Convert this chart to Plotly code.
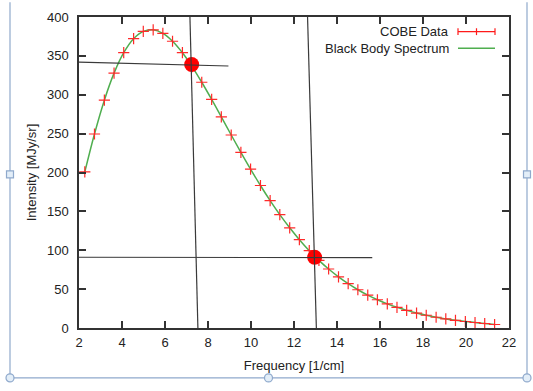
import plotly.graph_objects as go

# COBE FIRAS data
freq = [2.27, 2.72, 3.18, 3.63, 4.08, 4.54, 4.99, 5.45, 5.90, 6.35, 6.81, 7.26, 7.71,
        8.17, 8.62, 9.08, 9.53, 9.98, 10.44, 10.89, 11.34, 11.80, 12.25, 12.71, 13.16,
        13.61, 14.07, 14.52, 14.97, 15.43, 15.88, 16.34, 16.79, 17.24, 17.70, 18.15,
        18.61, 19.06, 19.51, 19.97, 20.42, 20.87, 21.33]
intensity = [200.723, 249.508, 293.024, 327.770, 354.081, 372.079, 381.493, 383.478,
             378.901, 368.833, 354.063, 336.278, 316.076, 293.924, 271.432, 248.239,
             225.940, 204.327, 183.262, 163.830, 145.750, 128.835, 113.568, 99.451,
             87.036, 75.876, 65.766, 57.008, 49.223, 42.267, 36.352, 31.062, 26.580,
             22.644, 19.255, 16.391, 13.811, 11.716, 9.921, 8.364, 7.087, 5.801, 4.523]

# highlighted points
mark_x = [7.24, 12.96]
mark_y = [339, 91]

# hand-drawn guide lines (x pairs, y pairs)
guide_h1_x = [2.0, 8.95]
guide_h1_y = [342, 337]
guide_v1_x = [7.16, 7.53]
guide_v1_y = [400, 0]
guide_v2_x = [12.63, 13.04]
guide_v2_y = [400, 0]
guide_h2_x = [2.0, 15.64]
guide_h2_y = [91, 90.5]

x_ticks = list(range(2, 23, 2))
y_ticks = list(range(0, 401, 50))

W, H = 533, 391
L, R, T, B = 79, 509, 10, 328


def px(x):
    return (x - L) / (R - L)


def py(y):
    return (B - y) / (B - T)


fig = go.Figure()
fig.add_trace(go.Scatter(x=freq, y=intensity, mode="lines", line=dict(color="#4fae4f", width=1.5, shape="spline"),
                         showlegend=False, hoverinfo="skip"))
fig.add_trace(go.Scatter(x=freq, y=intensity, mode="markers",
                         marker=dict(symbol="cross-thin", size=8, line=dict(color="#ff2a2a", width=1.2)),
                         showlegend=False))
fig.add_trace(go.Scatter(x=mark_x, y=mark_y, mode="markers",
                         marker=dict(symbol="circle", size=15, color="#ff0000"), showlegend=False))
for gx, gy in [(guide_h1_x, guide_h1_y), (guide_v1_x, guide_v1_y), (guide_v2_x, guide_v2_y), (guide_h2_x, guide_h2_y)]:
    fig.add_trace(go.Scatter(x=gx, y=gy, mode="lines", line=dict(color="#3a3a3a", width=1.2),
                             showlegend=False, hoverinfo="skip", cliponaxis=True))

shapes = []
# legend samples
shapes.append(dict(type="line", xref="paper", yref="paper", x0=px(458), x1=px(495), y0=py(25), y1=py(25),
                   line=dict(color="#ff1a1a", width=1.2)))
for xx in (458, 495, 476.5):
    shapes.append(dict(type="line", xref="paper", yref="paper", x0=px(xx), x1=px(xx), y0=py(21.5), y1=py(28.5),
                       line=dict(color="#ff1a1a", width=1.2)))
shapes.append(dict(type="line", xref="paper", yref="paper", x0=px(458), x1=px(495), y0=py(42), y1=py(42),
                   line=dict(color="#4fae4f", width=1.5)))

# outer selection frame
fc = "#8fa9cc"
shapes.append(dict(type="line", xref="paper", yref="paper", x0=px(10), x1=px(10), y0=py(-5), y1=py(379),
                   line=dict(color=fc, width=1.2), layer="below"))
shapes.append(dict(type="line", xref="paper", yref="paper", x0=px(527), x1=px(527), y0=py(-5), y1=py(379),
                   line=dict(color=fc, width=1.2), layer="below"))
shapes.append(dict(type="line", xref="paper", yref="paper", x0=px(10), x1=px(527), y0=py(379), y1=py(379),
                   line=dict(color=fc, width=1.2), layer="below"))
for cx in (10, 268.5, 527):
    shapes.append(dict(type="circle", xref="paper", yref="paper", xsizemode="pixel", ysizemode="pixel",
                       xanchor=px(cx), yanchor=py(379), x0=-4, x1=4, y0=-4, y1=4,
                       fillcolor="#e3eef8", line=dict(color=fc, width=1.2)))
for cx in (10, 527):
    shapes.append(dict(type="rect", xref="paper", yref="paper", xsizemode="pixel", ysizemode="pixel",
                       xanchor=px(cx), yanchor=py(171), x0=-3.5, x1=3.5, y0=-3.5, y1=3.5,
                       fillcolor="#e3eef8", line=dict(color=fc, width=1.2)))

font = "Liberation Sans, Arial, sans-serif"
annotations = [
    dict(text="COBE Data", xref="paper", yref="paper", x=px(451), y=py(25), xanchor="right", yanchor="middle",
         showarrow=False, font=dict(size=13, color="#222", family=font)),
    dict(text="Black Body Spectrum", xref="paper", yref="paper", x=px(451), y=py(42), xanchor="right",
         yanchor="middle", showarrow=False, font=dict(size=13, color="#222", family=font)),
]

axis_common = dict(showline=True, linecolor="#333", linewidth=1.5, mirror="allticks", ticks="inside",
                   ticklen=7, tickwidth=1.5, tickcolor="#333", showgrid=False, zeroline=False,
                   tickfont=dict(size=13, color="#222", family=font))

fig.update_layout(
    width=W, height=H,
    margin=dict(l=L, r=W - R, t=T, b=H - B),
    paper_bgcolor="white", plot_bgcolor="white",
    font=dict(family=font, size=13, color="#222"),
    shapes=shapes, annotations=annotations,
    xaxis=dict(range=[2, 22], tickvals=x_ticks, ticktext=[str(v) for v in x_ticks],
               title=dict(text="Frequency [1/cm]", font=dict(size=13), standoff=12), ticklabelstandoff=2,
               **axis_common),
    yaxis=dict(range=[0, 400], tickvals=y_ticks, ticktext=[str(v) for v in y_ticks],
               title=dict(text="Intensity [MJy/sr]", font=dict(size=13), standoff=7), ticklabelstandoff=6,
               **axis_common),
)

fig.write_html("out.html", config={"displayModeBar": False},
               post_script="document.body.style.margin='0';")
